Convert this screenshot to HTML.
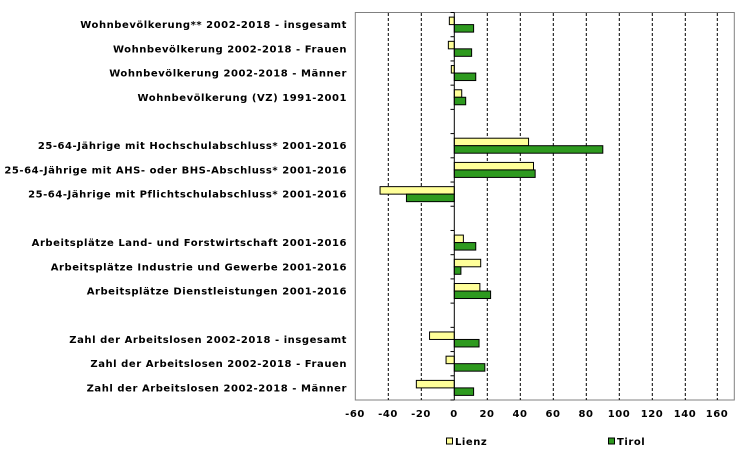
<!DOCTYPE html>
<html><head><meta charset="utf-8"><style>body{margin:0;background:#fff}svg{display:block}text{font-family:"DejaVu Sans","Liberation Sans",sans-serif;font-weight:bold;font-size:10px;fill:#000;letter-spacing:0.55px}</style></head><body>
<svg width="755" height="458" viewBox="0 0 755 458" xmlns="http://www.w3.org/2000/svg">
<rect x="355.3" y="12.5" width="379" height="387.5" fill="#fff" stroke="#808080" stroke-width="1"/>
<g stroke="#000" stroke-width="1" stroke-dasharray="3,2">
<line x1="388.3" y1="13" x2="388.3" y2="400"/><line x1="421.3" y1="13" x2="421.3" y2="400"/>
<line x1="487.3" y1="13" x2="487.3" y2="400"/><line x1="520.3" y1="13" x2="520.3" y2="400"/>
<line x1="553.3" y1="13" x2="553.3" y2="400"/><line x1="586.3" y1="13" x2="586.3" y2="400"/>
<line x1="619.3" y1="13" x2="619.3" y2="400"/><line x1="652.3" y1="13" x2="652.3" y2="400"/>
<line x1="685.3" y1="13" x2="685.3" y2="400"/><line x1="717.3" y1="13" x2="717.3" y2="400"/>
</g>
<g id="bars" stroke="#000" stroke-width="1"></g>
<line x1="454.3" y1="12.5" x2="454.3" y2="400" stroke="#000"/>
<g id="ticks" stroke="#000"></g>
<g id="labels"></g>
<g text-anchor="middle">
<text x="355" y="417">-60</text><text x="388" y="417">-40</text><text x="421" y="417">-20</text><text x="454" y="417">0</text><text x="487" y="417">20</text><text x="520" y="417">40</text><text x="553" y="417">60</text><text x="586" y="417">80</text><text x="619" y="417">100</text><text x="652" y="417">120</text><text x="685" y="417">140</text><text x="717" y="417">160</text>
</g>
<rect x="446.5" y="438" width="6" height="6" fill="#ffff99" stroke="#000"/><text x="455" y="445">Lienz</text>
<rect x="608.5" y="438" width="6" height="6" fill="#2e9a1f" stroke="#000"/><text x="617" y="445">Tirol</text>
<script>
var d=[["Wohnbevölkerung** 2002-2018 - insgesamt",-3,11.7],["Wohnbevölkerung 2002-2018 - Frauen",-3.6,10.5],["Wohnbevölkerung 2002-2018 - Männer",-1.8,13],["Wohnbevölkerung (VZ) 1991-2001",4.5,6.9],null,["25-64-Jährige mit Hochschulabschluss* 2001-2016",45,90],["25-64-Jährige mit AHS- oder BHS-Abschluss* 2001-2016",48,49],["25-64-Jährige mit Pflichtschulabschluss* 2001-2016",-45,-29],null,["Arbeitsplätze Land- und Forstwirtschaft 2001-2016",5.5,13],["Arbeitsplätze Industrie und Gewerbe 2001-2016",16,4],["Arbeitsplätze Dienstleistungen 2001-2016",15.5,22],null,["Zahl der Arbeitslosen 2002-2018 - insgesamt",-15,15],["Zahl der Arbeitslosen 2002-2018 - Frauen",-5,18.5],["Zahl der Arbeitslosen 2002-2018 - Männer",-23,11.7]];
var ns="http://www.w3.org/2000/svg",b=document.getElementById("bars"),t=document.getElementById("ticks"),l=document.getElementById("labels");
var z=454.3,s=1.65,h=387.5/16;
function r(v,y,c){var e=document.createElementNS(ns,"rect");var x1=Math.min(z,z+v*s),w=Math.abs(v*s);e.setAttribute("x",x1);e.setAttribute("y",y);e.setAttribute("width",w);e.setAttribute("height",7.5);e.setAttribute("fill",c);b.appendChild(e);}
for(var i=0;i<=16;i++){var k=document.createElementNS(ns,"line");var y=12.5+i*h;k.setAttribute("x1",450.5);k.setAttribute("x2",454.3);k.setAttribute("y1",y);k.setAttribute("y2",y);t.appendChild(k);}
d.forEach(function(o,i){if(!o)return;var c=12.5+i*h+h/2;r(o[1],c-7.5,"#ffff99");r(o[2],c,"#2e9a1f");var e=document.createElementNS(ns,"text");e.setAttribute("x",347);e.setAttribute("y",c+3.5);e.setAttribute("text-anchor","end");e.textContent=o[0];l.appendChild(e);});
</script>
</svg>
</body></html>
